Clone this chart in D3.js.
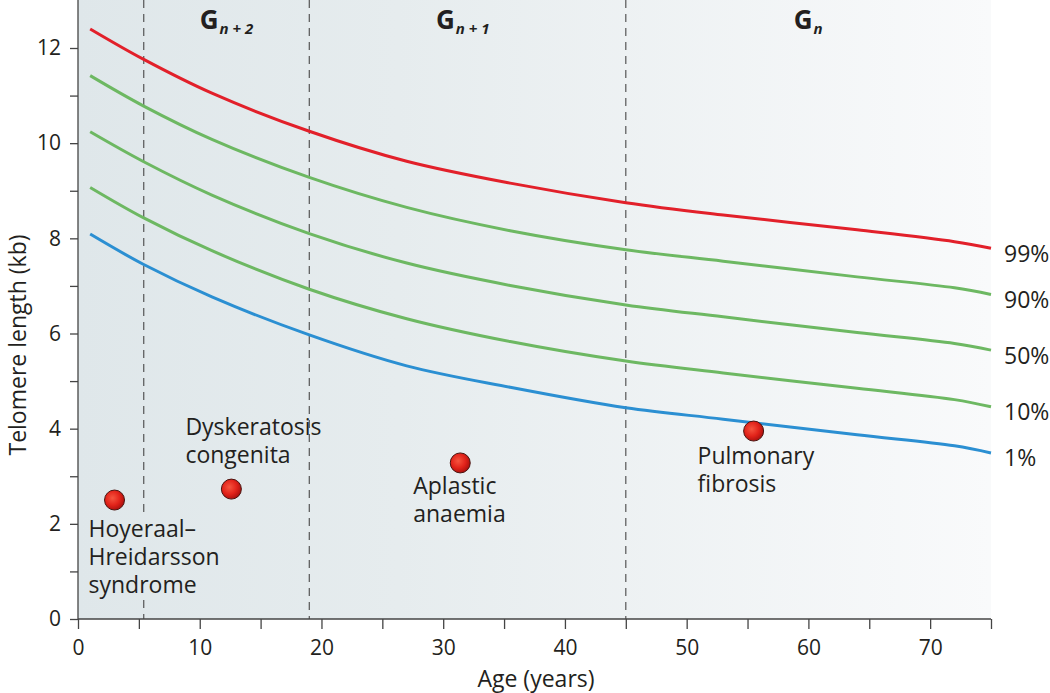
<!DOCTYPE html>
<html><head><meta charset="utf-8">
<script src="https://cdn.jsdelivr.net/npm/d3@7/dist/d3.min.js"></script>
<style>body{margin:0;background:#fff;} svg{display:block;} text{font-family:"Open Sans","Noto Sans",sans-serif;fill:#231f20;}</style>
</head><body><svg id="c" width="1050" height="693"></svg>
<script>
const ages = [1,5.4,11,19,27,35.5,45,53,64,72,75];
const p99 = [12.4,11.76,11.05,10.25,9.62,9.16,8.75,8.49,8.18,7.93,7.79];
const p90 = [11.42,10.78,10.08,9.28,8.65,8.16,7.76,7.52,7.19,6.96,6.82];
const p50 = [10.24,9.61,8.91,8.10,7.48,7.01,6.60,6.35,6.02,5.79,5.65];
const p10 = [9.07,8.43,7.74,6.93,6.31,5.83,5.42,5.17,4.85,4.61,4.46];
const p1  = [8.09,7.45,6.77,5.97,5.32,4.87,4.44,4.20,3.87,3.64,3.49];
const seriesNames = ["99%","90%","50%","10%","1%"];
const seriesColors = ["#e2202a","#6db862","#6db862","#6db862","#2b8fd2"];
const diseaseNames = [["Hoyeraal–","Hreidarsson","syndrome"],["Dyskeratosis","congenita"],["Aplastic","anaemia"],["Pulmonary","fibrosis"]];
const diseaseAge = [3,12.6,31.4,55.5];
const diseaseTL = [2.5,2.73,3.28,3.95];
const genAges = [5.4,19,45];
const genLabels = [["n + 2",10],["n + 1",29.4],["n",58.8]];
const xTicks = [0,10,20,30,40,50,60,70];
const yTicks = [0,2,4,6,8,10,12];

const svg = d3.select("#c");
const x = d3.scaleLinear().domain([0,75]).range([78,991]);
const y = d3.scaleLinear().domain([0,12]).range([619,48]);
const yTop = 0;

const defs = svg.append("defs");
const bg = defs.append("linearGradient").attr("id","bg").attr("x1","0").attr("x2","1").attr("y1","0").attr("y2","0");
bg.append("stop").attr("offset","0").attr("stop-color","#dfe7ea");
bg.append("stop").attr("offset","0.35").attr("stop-color","#e6ecee");
bg.append("stop").attr("offset","1").attr("stop-color","#f9fafb");
const rg = defs.append("radialGradient").attr("id","dot").attr("cx","0.4").attr("cy","0.4").attr("r","0.6");
rg.append("stop").attr("offset","0").attr("stop-color","#f5553f");
rg.append("stop").attr("offset","0.6").attr("stop-color","#e2231a");
rg.append("stop").attr("offset","1").attr("stop-color","#b0120f");

svg.append("rect").attr("x",x(0)).attr("y",yTop).attr("width",x(75)-x(0)).attr("height",y(0)-yTop).attr("fill","url(#bg)");

// generation dividers
genAges.forEach((a,i)=>{
  const segs = i===0 ? [[yTop,517],[600,y(0)]] : [[yTop,y(0)]];
  segs.forEach(s=>svg.append("line").attr("x1",x(a)).attr("x2",x(a)).attr("y1",s[0]).attr("y2",s[1])
    .attr("stroke","#555").attr("stroke-width",1.2).attr("stroke-dasharray","8,6"));
});
genLabels.forEach(g=>{
  const t = svg.append("text").attr("x",x(g[1])).attr("y",29);
  t.append("tspan").text("G").attr("font-weight","bold").attr("font-size",26);
  t.append("tspan").text(g[0]).attr("font-weight","bold").attr("font-style","italic").attr("font-size",15).attr("dy",5).attr("dx",1);
});

// axes
const ax = svg.append("g").attr("transform",`translate(0,${y(0)})`)
  .call(d3.axisBottom(x).tickValues(d3.range(0,76,5)).tickSize(10).tickFormat(d=>xTicks.includes(d)?d:""));
const ay = svg.append("g").attr("transform",`translate(${x(0)},0)`)
  .call(d3.axisLeft(y).tickValues(d3.range(0,13,1)).tickSize(8).tickFormat(d=>yTicks.includes(d)?d:""));
[ax,ay].forEach(a=>{
  a.select(".domain").remove();
  a.selectAll("line").attr("stroke","#444").attr("stroke-width",1.3);
  a.selectAll("text").attr("font-size",21).attr("fill","#231f20").style("font-family","'Open Sans','Noto Sans',sans-serif");
});
ax.selectAll("text").attr("y",36).attr("dy",0);
ay.selectAll("text").attr("dx","-6");
svg.append("line").attr("x1",x(0)).attr("x2",x(75)).attr("y1",y(0)).attr("y2",y(0)).attr("stroke","#444").attr("stroke-width",1.3);
svg.append("line").attr("x1",x(0)).attr("x2",x(0)).attr("y1",yTop).attr("y2",y(0)).attr("stroke","#444").attr("stroke-width",1.3);

svg.append("text").attr("x",536).attr("y",687).attr("text-anchor","middle").attr("font-size",23).text("Age (years)");
svg.append("text").attr("transform",`translate(26,345) rotate(-90)`).attr("text-anchor","middle").attr("font-size",23).text("Telomere length (kb)");

// curves
const line = d3.line().x((d,i)=>x(ages[i])).y(d=>y(d)).curve(d3.curveCatmullRom.alpha(0.5));
[p99,p90,p50,p10,p1].forEach((s,k)=>{
  svg.append("path").attr("d",line(s)).attr("fill","none").attr("stroke",seriesColors[k]).attr("stroke-width",3);
  svg.append("text").attr("x",1004).attr("y",y(s[s.length-1])+13.5).attr("font-size",23).text(seriesNames[k]);
});

// diseases
const labOff = [[-26,37,28],[-46,-54,28],[-47,31,28],[-56,33,28]];
diseaseNames.forEach((lines,i)=>{
  const cx = x(diseaseAge[i]), cy = y(diseaseTL[i]);
  svg.append("circle").attr("cx",cx).attr("cy",cy).attr("r",10).attr("fill","url(#dot)").attr("stroke","#4a1410").attr("stroke-width",1);
  const o = labOff[i];
  const t = svg.append("text").attr("font-size",23);
  lines.forEach((l,j)=>t.append("tspan").attr("x",cx+o[0]).attr("y",cy+o[1]+j*o[2]).text(l));
});
</script></body></html>
